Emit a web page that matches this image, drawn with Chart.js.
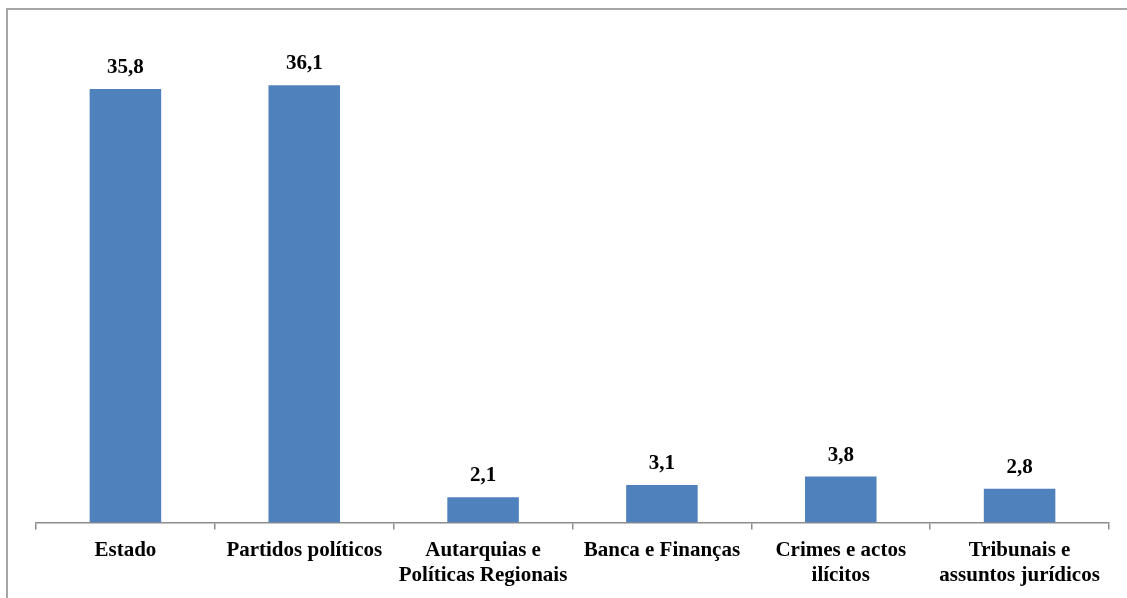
<!DOCTYPE html>
<html>
<head>
<meta charset="utf-8">
<script src="https://cdn.jsdelivr.net/npm/chart.js@4/dist/chart.umd.min.js"></script>
<style>
  html, body { margin: 0; padding: 0; background: #ffffff; }
  #wrap { width: 1127px; height: 598px; position: relative; }
</style>
</head>
<body>
<div id="wrap"><canvas id="chart" width="1127" height="598"></canvas></div>
<script>
// Categories (multi-line labels) and their values (%)
const categories = [
  ['Estado'],
  ['Partidos políticos'],
  ['Autarquias e', 'Políticas Regionais'],
  ['Banca e Finanças'],
  ['Crimes e actos', 'ilícitos'],
  ['Tribunais e', 'assuntos jurídicos']
];
const values = [35.8, 36.1, 2.1, 3.1, 3.8, 2.8];

const SERIF = '"Liberation Serif", "Times New Roman", serif';

// Frame around the chart (only top and left edges fall inside the canvas)
const framePlugin = {
  id: 'frame',
  beforeDraw(chart) {
    const ctx = chart.ctx;
    ctx.save();
    ctx.strokeStyle = '#a6a6a6';
    ctx.lineWidth = 2;
    ctx.strokeRect(7, 9, 1300, 800);
    ctx.restore();
  }
};

// Value labels above each bar, using comma as decimal separator
const valueLabels = {
  id: 'valueLabels',
  afterDatasetsDraw(chart) {
    const ctx = chart.ctx;
    const meta = chart.getDatasetMeta(0);
    ctx.save();
    ctx.font = 'bold 21px ' + SERIF;
    ctx.fillStyle = '#000000';
    ctx.textAlign = 'center';
    ctx.textBaseline = 'alphabetic';
    meta.data.forEach((bar, i) => {
      const txt = values[i].toFixed(1).replace('.', ',');
      ctx.fillText(txt, bar.x, bar.y - 16);
    });
    ctx.restore();
  }
};

new Chart(document.getElementById('chart'), {
  type: 'bar',
  data: {
    labels: categories,
    datasets: [{
      data: values,
      backgroundColor: '#4F81BD',
      borderWidth: 0,
      barPercentage: 0.4,
      categoryPercentage: 1.0
    }]
  },
  options: {
    responsive: false,
    animation: false,
    events: [],
    layout: { padding: { left: 36, right: 18, top: 38, bottom: 2 } },
    plugins: {
      legend: { display: false },
      tooltip: { enabled: false }
    },
    scales: {
      y: {
        display: false,
        min: 0,
        max: 40
      },
      x: {
        offset: true,
        border: { display: true, color: '#8c8c8c', width: 1.5 },
        grid: {
          offset: true,
          drawOnChartArea: false,
          drawTicks: true,
          tickLength: 7,
          color: '#8c8c8c',
          lineWidth: 1.5
        },
        ticks: {
          color: '#000000',
          padding: 8,
          maxRotation: 0,
          autoSkip: false,
          font: { family: SERIF, size: 21, weight: 'bold', lineHeight: 1.2 }
        }
      }
    }
  },
  plugins: [framePlugin, valueLabels]
});
</script>
</body>
</html>
